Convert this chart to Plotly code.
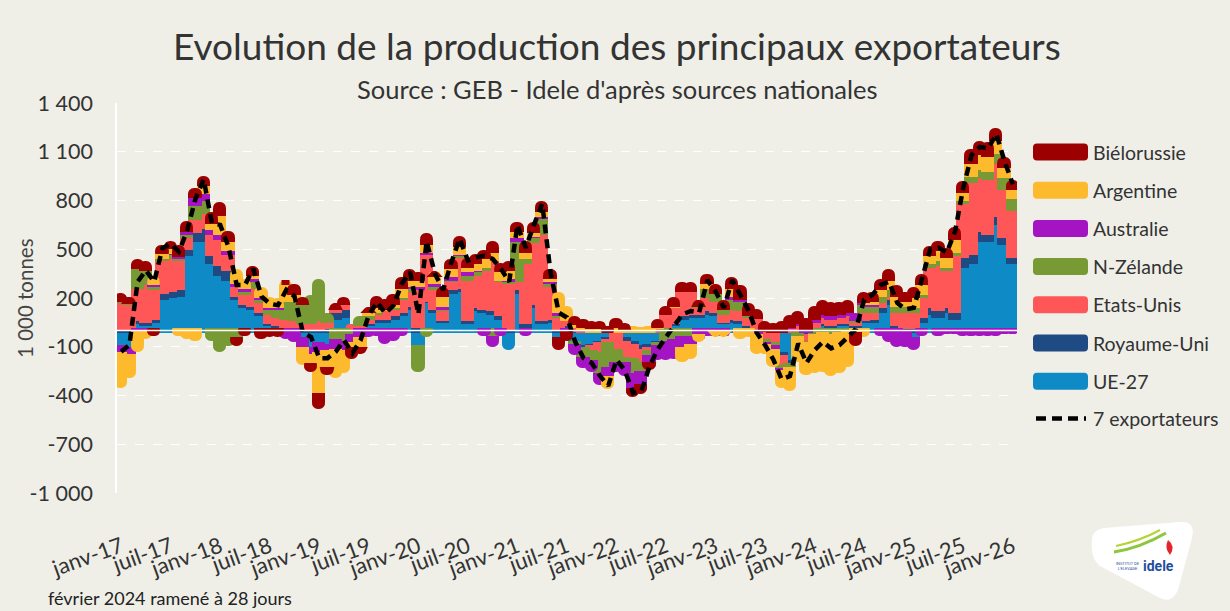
import plotly.graph_objects as go

# ---------------- data (1 000 tonnes, monthly, janv-17 .. janv-26) ----------------
mois_fr = ["janv", "févr", "mars", "avr", "mai", "juin", "juil", "août", "sept", "oct", "nov", "déc"]
months = [f"{mois_fr[m]}-{y:02d}" for y in range(17, 27) for m in range(12)][:109]

ue27 = [-110, -120, 50, 40, 60, 200, 210, 220, 470, 560,
        560, 420, 350, 320, 200, 150, 140, 100, 40, 30,
        20, 20, -60, -120, -90, -100, 80, 90, -20, 10,
        40, 60, 60, 80, 100, 140, -110, 180, 120, 60,
        240, 250, 50, 130, 120, 110, 80, -110, 240, 30,
        150, 50, 60, -60, 30, -80, -110, -100, -80, -60,
        -20, -60, -80, -110, -100, -80, 20, 40, 80, 90,
        90, 110, 100, 50, 60, 50, 30, -20, -10, -20,
        -150, -200, -20, -30, 20, 40, 30, 40, 40, 30,
        60, 60, 120, 170, 20, -20, -60, 60, 110, 90,
        120, 80, 400, 420, 560, 560, 660, 540, 420]
royaume_uni = [10, 10, 20, 20, 20, 40, 40, 40, 40, 50,
               80, 50, 60, 60, 20, 20, 20, 20, 10, 10,
               10, 10, 10, 10, 10, 20, 40, 50, 10, 10,
               10, 20, 20, 20, 20, 20, 30, 10, 20, 10,
               20, 20, 20, 20, 20, 20, 20, 10, 20, 20,
               20, 20, 20, 10, 10, 5, -10, -10, -10, -10,
               -10, -20, -20, -20, -20, -10, 10, 10, 20, 20,
               20, 20, 20, 10, 20, 20, 10, 5, 5, -10,
               -20, -20, -10, -10, 10, 10, 10, 10, 10, 10,
               10, 20, 30, 30, 20, 20, 20, 30, 40, 40,
               30, 40, 60, 60, 60, 40, 50, 40, 40]
etats_unis = [170, 160, 200, 230, 180, 200, 205, 180, 70, 80,
              90, 130, 160, 100, 60, 60, 110, 60, 60, 50,
              50, 40, 40, 40, 60, 40, 20, 30, 10, 20,
              30, 30, 50, 40, 80, 90, 230, 290, 120, 60,
              50, 190, 250, 200, 240, 310, 210, 290, 50, 370,
              380, 530, 200, 80, 30, 20, 10, -30, -60, -20,
              -100, -100, -90, -80, -20, 20, 80, 100, 150, 140,
              40, 80, 70, 50, 60, 60, 50, 80, -60, -60,
              -60, 20, 40, -40, 30, 40, 40, 40, 50, 20,
              50, 40, 30, 20, 80, 100, 100, 120, 250, 280,
              230, 350, 330, 440, 330, 340, 330, 300, 290]
nz = [10, 5, 120, 90, 20, 10, 20, 15, 20, 90,
      80, -50, -120, -80, -60, 20, 40, 20, 30, 50,
      110, 120, 120, 150, 230, 30, -70, -80, -20, 30,
      20, 10, 0, 10, 10, 20, -130, -30, 20, 10,
      10, 10, 30, 20, 20, -50, 10, 10, 250, 30,
      30, 100, 20, 10, 0, -20, -60, -60, -130, -150,
      -80, -30, -90, -60, -30, -20, -80, -70, -50, -50,
      10, 60, 50, 30, 60, 60, 10, -10, -20, -20,
      -20, -20, -20, -10, -40, -30, -40, -30, -20, 10,
      50, 40, 40, 40, 40, 40, 30, 20, 20, 30,
      20, 20, 20, 40, 50, 50, 60, 70, 70]
australie = [-40, -40, -20, -20, 10, 5, 10, 10, 20, 50,
             40, 30, 30, 20, 20, 20, 20, 10, 10, 10,
             -40, -60, -60, -40, -60, -40, -60, -60, -50, -60,
             -30, -20, -70, -50, -20, 10, 20, 10, 20, 20,
             20, 10, 20, 10, -20, -40, -20, 20, 20, -20,
             10, 10, 10, 20, -20, -40, -40, -40, -40, -60,
             -30, -60, -90, -80, -40, -60, -90, -90, -70, -50,
             -40, -20, -20, -20, 20, 10, 0, -10, -10, -20,
             -10, 10, 10, 10, 20, 20, 20, 20, 20, 20,
             10, 10, -20, -60, -90, -70, -50, -20, 0, -20,
             -10, -10, -20, -20, -20, -20, -20, -10, -10]
argentine = [-190, -120, -100, -20, 30, 30, 30, -20, -40, -50,
             50, 40, 120, 55, 60, 30, 20, 40, 40, 30,
             100, 40, -80, -60, -250, -100, -150, -110, -30, -60,
             20, 30, 10, 20, 60, 40, 40, 50, 40, 60,
             50, 45, 30, 40, 50, 50, 50, 50, 40, 40,
             20, 30, 20, 100, 60, 20, 20, 20, 20, -50,
             30, 10, 10, 5, 10, 10, 0, 10, -60, -60,
             -20, 30, -10, -10, 50, -40, -30, -90, -30, -80,
             -80, -120, -130, -170, -210, -210, -230, -220, -190, -30,
             -30, 20, 40, 60, 60, 30, 60, 60, 50, 60,
             60, 80, 50, 80, 90, 90, 80, 60, 60]
bielorussie = [20, 15, 30, 30, -20, 20, 20, 40, 35, 30,
               30, 40, 50, 40, -20, -20, 30, -40, -25, -25,
               0, 40, 20, -20, -70, -20, 10, 20, -40, -10,
               5, 45, 35, 35, 40, 40, 20, 40, 10, 30,
               30, 40, 30, 30, 30, 40, 30, 30, 30, 40,
               40, 40, 30, -50, -30, 25, 20, 20, 20, 10,
               30, 15, -25, -30, -20, 25, 20, 30, 30, 30,
               10, 30, 30, 30, 40, 60, 50, 30, 35, 30,
               40, 50, 50, 50, 50, 60, 60, 50, 50, -50,
               40, 30, 40, 40, 40, 30, 40, 40, 30, 30,
               30, 50, 40, 60, 60, 60, 50, 40, 30]
total_7 = [-130, -90, 300, 370, 300, 505, 535, 485, 615, 810,
           930, 660, 650, 515, 280, 280, 380, 210, 165, 155,
           250, 210, -10, -40, -170, -170, -130, -60, -140, -60,
           95, 175, 105, 155, 290, 360, 100, 550, 350, 250,
           420, 565, 430, 450, 460, 440, 380, 300, 650, 510,
           650, 780, 360, 110, 80, -70, -170, -200, -280, -340,
           -180, -245, -385, -375, -220, -115, -40, 30, 100, 120,
           110, 310, 240, 140, 310, 220, 120, -15, -90, -180,
           -300, -280, -80, -200, -120, -70, -110, -90, -40, 10,
           190, 220, 280, 300, 170, 130, 140, 310, 500, 510,
           480, 610, 880, 1080, 1130, 1120, 1210, 1040, 900]

series_names = ["UE-27", "Royaume-Uni", "Etats-Unis", "N-Zélande", "Australie", "Argentine", "Biélorussie"]
series_vals = [ue27, royaume_uni, etats_unis, nz, australie, argentine, bielorussie]
series_colors = ["#0E8BC7", "#1E4B83", "#FF5757", "#789A34", "#A514C2", "#FDBA2C", "#9C0000"]

y_ticks = [-1000, -700, -400, -100, 200, 500, 800, 1100, 1400]
y_ticktext = ["-1 000", "-700", "-400", "-100", "200", "500", "800", "1 100", "1 400"]
x_ticks = months[::6]

BG = "#EFEFE8"
TXT = "#333333"
FONT = "Lato"

# ---------------- figure ----------------
fig = go.Figure()
for name, vals, col in zip(series_names, series_vals, series_colors):
    fig.add_trace(go.Bar(
        x=months, y=vals, name=name,
        marker=dict(color=col, line=dict(color=col, width=5), cornerradius=4),
        showlegend=False,
    ))
fig.add_trace(go.Scatter(
    x=months, y=total_7, name="7 exportateurs", mode="lines",
    line=dict(color="black", width=4.5, dash="9px,6px"), showlegend=False,
))

L, R, T, B = 117, 1017, 103, 493
W, H = 1230, 611


def px(x):
    return (x - L) / (R - L)


def py(y):
    return (B - y) / (B - T)


shapes = []
annotations = []

# manual legend
leg_items = list(zip(series_names, series_colors))[::-1]
for i, (name, col) in enumerate(leg_items):
    yc = 152 + i * 38.2
    x0, x1, y0, y1, r = 1033, 1088, yc - 8.5, yc + 8.5, 4
    path = (f"M {px(x0 + r)},{py(y0)} L {px(x1 - r)},{py(y0)} Q {px(x1)},{py(y0)} {px(x1)},{py(y0 + r)} "
            f"L {px(x1)},{py(y1 - r)} Q {px(x1)},{py(y1)} {px(x1 - r)},{py(y1)} "
            f"L {px(x0 + r)},{py(y1)} Q {px(x0)},{py(y1)} {px(x0)},{py(y1 - r)} "
            f"L {px(x0)},{py(y0 + r)} Q {px(x0)},{py(y0)} {px(x0 + r)},{py(y0)} Z")
    shapes.append(dict(type="path", xref="paper", yref="paper", path=path,
                       fillcolor=col, line=dict(width=0)))
    annotations.append(dict(xref="paper", yref="paper", x=px(1091), y=py(yc), text=name,
                            showarrow=False, xanchor="left", yanchor="middle",
                            font=dict(family=FONT, size=19.5, color=TXT)))
yl = 152 + 7 * 38.2 - 1
shapes.append(dict(type="line", xref="paper", yref="paper", x0=px(1036), x1=px(1086), y0=py(yl), y1=py(yl),
                   line=dict(color="black", width=4.5, dash="10px,6px")))
annotations.append(dict(xref="paper", yref="paper", x=px(1091), y=py(yl), text="7 exportateurs",
                        showarrow=False, xanchor="left", yanchor="middle",
                        font=dict(family=FONT, size=19.5, color=TXT)))

# zero line above the bars
shapes.append(dict(type="line", xref="paper", yref="y", x0=0, x1=1, y0=0, y1=0,
                   line=dict(color="white", width=1.5), layer="above"))

# titles
annotations.append(dict(xref="paper", yref="paper", x=px(617), y=py(45), text="Evolution de la production des principaux exportateurs",
                        showarrow=False, xanchor="center", yanchor="middle",
                        font=dict(family=FONT, size=37, color=TXT)))
annotations.append(dict(xref="paper", yref="paper", x=px(617), y=py(89), text="Source : GEB - Idele d'après sources nationales",
                        showarrow=False, xanchor="center", yanchor="middle",
                        font=dict(family=FONT, size=25.5, color=TXT)))
annotations.append(dict(xref="paper", yref="paper", x=px(25), y=py(298), text="1 000 tonnes", textangle=-90,
                        showarrow=False, xanchor="center", yanchor="middle",
                        font=dict(family=FONT, size=20.5, color="#444444")))
annotations.append(dict(xref="paper", yref="paper", x=px(46), y=py(611), text="février 2024 ramené à 28 jours",
                        showarrow=False, xanchor="left", yanchor="bottom",
                        font=dict(family=FONT, size=18, color="#222222")))

# logo (simplified)
logo = (f"M {px(1092)},{py(540)} Q {px(1092)},{py(530)} {px(1104)},{py(528)} L {px(1180)},{py(522)} "
        f"Q {px(1196)},{py(521)} {px(1192)},{py(538)} L {px(1178)},{py(590)} Q {px(1172)},{py(604)} {px(1160)},{py(598)} "
        f"L {px(1100)},{py(566)} Q {px(1090)},{py(558)} {px(1092)},{py(540)} Z")
shapes.append(dict(type="path", xref="paper", yref="paper", path=logo, fillcolor="white", line=dict(width=0)))
shapes.append(dict(type="path", xref="paper", yref="paper",
                   path=f"M {px(1114)},{py(552)} Q {px(1140)},{py(548)} {px(1166)},{py(533)}",
                   line=dict(color="#8DC63F", width=3)))
shapes.append(dict(type="path", xref="paper", yref="paper",
                   path=f"M {px(1116)},{py(546)} Q {px(1140)},{py(541)} {px(1160)},{py(530)}",
                   line=dict(color="#B5D334", width=2)))
annotations.append(dict(xref="paper", yref="paper", x=px(1176), y=py(566), text="<b>idele</b>",
                        showarrow=False, xanchor="right", yanchor="middle",
                        font=dict(family="Roboto", size=14, color="#1F4E9C")))
annotations.append(dict(xref="paper", yref="paper", x=px(1142), y=py(566), text="INSTITUT DE<br>L'ELEVAGE",
                        showarrow=False, xanchor="right", yanchor="middle",
                        font=dict(family="Roboto", size=4, color="#1F4E9C")))
shapes.append(dict(type="path", xref="paper", yref="paper",
                   path=f"M {px(1168)},{py(540)} Q {px(1176)},{py(546)} {px(1170)},{py(555)} Q {px(1164)},{py(548)} {px(1168)},{py(540)} Z",
                   fillcolor="#E2252B", line=dict(width=0)))

fig.update_layout(
    width=W, height=H,
    margin=dict(l=L, r=W - R, t=T, b=H - B),
    paper_bgcolor=BG, plot_bgcolor=BG,
    barmode="relative", bargap=0,
    shapes=shapes, annotations=annotations,
    showlegend=False,
    font=dict(family=FONT, color=TXT),
)
fig.update_xaxes(
    type="category", range=[-0.5, len(months) - 0.5],
    tickmode="array", tickvals=x_ticks, ticktext=x_ticks,
    tickangle=-20, tickfont=dict(family=FONT, size=22, color=TXT),
    showgrid=False, zeroline=False, showline=False, ticks="",
    ticklabelstandoff=36,
)
fig.update_yaxes(
    range=[-1000, 1400], tickmode="array", tickvals=y_ticks, ticktext=y_ticktext,
    tickfont=dict(family=FONT, size=21.5, color=TXT),
    showgrid=True, gridcolor="white", griddash="dash", gridwidth=1,
    zeroline=False, showline=True, linecolor="white", linewidth=1.5, ticks="",
    ticklabelstandoff=18,
)

fig.write_html("out.html", config={"displayModeBar": False},
               post_script="document.body.style.margin='0px';")
